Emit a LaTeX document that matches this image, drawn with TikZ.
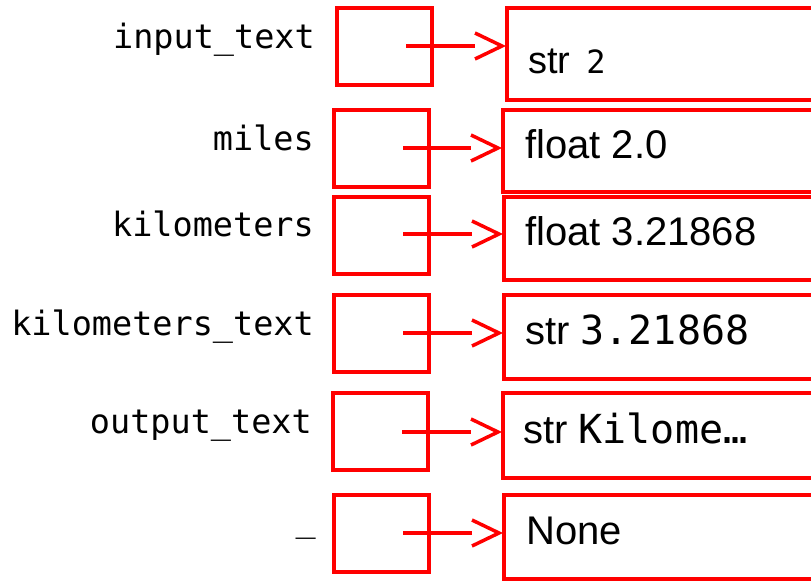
\documentclass[tikz,border=0pt]{standalone}
\usepackage{fontspec}
\setmainfont{Liberation Sans}
\newfontfamily\codefont{DejaVu Sans Mono}
\usetikzlibrary{calc}
\definecolor{ptrred}{RGB}{255,0,0}
\begin{document}
\begin{tikzpicture}[x=1pt,y=-1pt,
  frame/.style={draw=ptrred, line width=3.5pt, inner sep=0pt, outer sep=0pt,
    anchor=north west},
  slot/.style={frame, minimum width=95pt, minimum height=77pt},
  cell/.style={frame, minimum width=400pt},
  varname/.style={anchor=base east, inner sep=0pt,
    font=\codefont\fontsize{33.5}{36}\selectfont},
  val/.style={anchor=base west, inner sep=0pt,
    font=\fontsize{40}{44}\selectfont},
  ptr/.style={draw=ptrred, line width=3.5pt},
  barb/.style={draw=ptrred, line width=3.5pt, line join=miter}]
\useasboundingbox (0,0) rectangle (811,581);
\clip (0,0) rectangle (811,581);

% variable names
\node[varname] (l1) at (315,48)  {input\_text};
\node[varname] (l2) at (314,150) {miles};
\node[varname] (l3) at (314,236) {kilometers};
\node[varname] (l4) at (314,335) {kilometers\_text};
\node[varname] (l5) at (312,433) {output\_text};
\node[varname] (l6) at (316,531) {\_};

% name slots
\node[slot] (s1) at (337,8)   {};
\node[slot] (s2) at (334,110) {};
\node[slot] (s3) at (334,197) {};
\node[slot] (s4) at (334,295) {};
\node[slot] (s5) at (333,393) {};
\node[slot] (s6) at (334,495) {};

% value cells
\node[cell, minimum height=92pt] (v1) at (507,8)   {};
\node[cell, minimum height=82pt] (v2) at (503,110) {};
\node[cell, minimum height=83pt] (v3) at (504,197) {};
\node[cell, minimum height=84pt] (v4) at (504,295) {};
\node[cell, minimum height=85pt] (v5) at (503,393) {};
\node[cell, minimum height=84pt] (v6) at (504,495) {};

% cell contents
\node[val, font=\fontsize{38}{42}\selectfont] (t1) at (528,73)
  {str {\codefont\fontsize{32}{36}\selectfont\,2}};
\node[val] (t2) at (525,158) {float 2.0};
\node[val] (t3) at (525,245) {float 3.21868};
\node[val] (t4) at (525,344) {str {\codefont\fontsize{40}{44}\selectfont 3.21868}};
\node[val] (t5) at (523,443) {str {\codefont\fontsize{40}{44}\selectfont Kilome…}};
\node[val] (t6) at (526,544) {None};

% references from slots to values: a shaft ending at the back of an open head
\coordinate (p1) at (406,46);
\coordinate (p2) at (403,148);
\coordinate (p3) at (403,234);
\coordinate (p4) at (403,333);
\coordinate (p5) at (402,432);
\coordinate (p6) at (403,533);
\foreach \i in {1,...,6} {
  \coordinate (h\i) at ($(p\i -| v\i.west)+(-5,0)$);
  \draw[ptr] (p\i) -- ($(h\i)+(-27,0)$);
  \draw[barb] ($(h\i)+(-27,-13)$) -- (h\i) -- ($(h\i)+(-27,13)$);
}
\end{tikzpicture}
\end{document}
